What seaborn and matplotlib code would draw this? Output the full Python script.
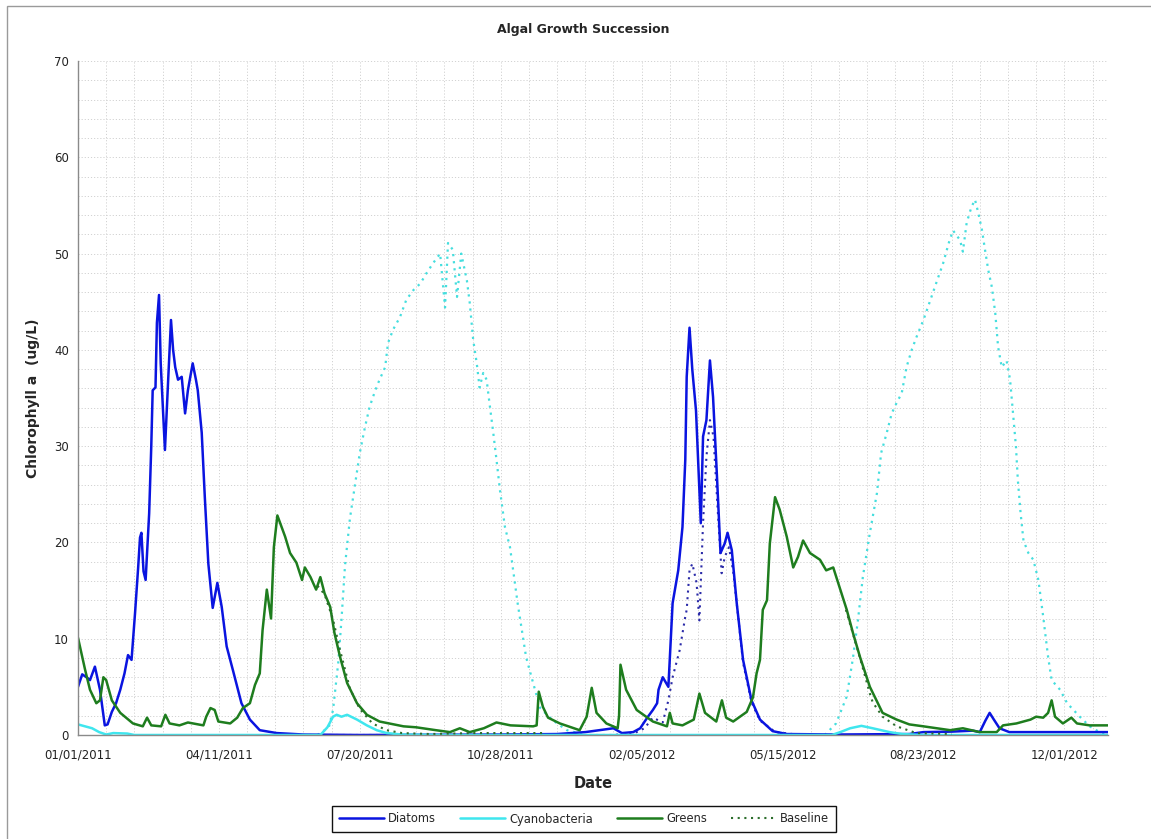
import numpy as np
import pandas as pd
import matplotlib
matplotlib.use("Agg")
import matplotlib.pyplot as plt
from matplotlib.ticker import MultipleLocator
from matplotlib.patches import Rectangle
import seaborn as sns

START = "2011-01-01"

# ---- data (day offset from 01/01/2011, chlorophyll a ug/L) ----
diatoms_days = [0, 3, 6, 8.5, 12, 15.6, 19, 21, 24, 27, 30, 33, 35.5, 38, 40.5, 42.7, 44, 45, 46.5, 48,
                50.5, 52, 53, 55, 56, 57.5, 58.7, 61.7, 64, 66, 67.5, 69, 71, 73.6, 76, 78, 81.4, 83.7, 85,
                87.8, 90, 92.5, 95.6, 98.9, 102, 105.5, 110, 116, 122, 129, 141, 160, 200, 300, 340, 360,
                375, 380, 386, 394, 399, 404, 408, 411, 412, 415, 419, 422, 426, 429, 431, 432, 434, 436,
                438.6, 442, 443.6, 446, 448.5, 450.7, 453.5, 456, 459, 461, 464, 467.5, 472, 478, 484, 493,
                503, 540, 590, 600, 620, 635, 640, 644, 647, 650, 654, 661, 700, 731]
diatoms_vals = [5.0, 6.3, 6.0, 5.7, 7.1, 4.7, 1.0, 1.1, 2.4, 3.3, 4.7, 6.4, 8.3, 7.8, 12.7, 17.4, 20.5, 21.0, 17.0, 16.1,
                23.0, 30.0, 35.8, 36.1, 42.8, 45.7, 38.6, 29.6, 36.9, 43.1, 40.0, 38.2, 36.9, 37.2, 33.4, 35.8, 38.6, 36.9, 35.8,
                31.4, 24.7, 17.8, 13.2, 15.8, 13.3, 9.2, 6.7, 3.3, 1.6, 0.5, 0.2, 0.05, 0.0, 0.05, 0.1, 0.3,
                0.6, 0.7, 0.2, 0.3, 0.7, 1.8, 2.6, 3.3, 4.7, 6.0, 5.0, 13.7, 17.1, 21.6, 28.6, 37.2, 42.3, 37.9,
                33.7, 22.0, 31.0, 32.7, 38.9, 35.1, 26.8, 18.9, 19.9, 21.0, 19.2, 13.7, 7.8, 3.6, 1.6, 0.4,
                0.1, 0.05, 0.1, 0.3, 0.35, 0.45, 0.3, 1.5, 2.3, 1.6, 0.7, 0.3, 0.3, 0.3]

cyano_days = [0, 5, 10, 15, 20, 25, 35, 40, 60, 172, 177, 181, 183.6, 187, 191, 198, 205, 212, 219, 230,
              260, 535, 541, 548, 556, 564, 576, 585, 600, 731]
cyano_vals = [1.1, 0.9, 0.7, 0.3, 0.05, 0.2, 0.15, 0.0, 0.0, 0.0, 0.8, 1.9, 2.1, 1.9, 2.1, 1.6, 1.0, 0.5, 0.2, 0.05,
              0.0, 0.0, 0.3, 0.7, 0.95, 0.7, 0.3, 0.1, 0.0, 0.0]

greens_days = [0, 5, 8.5, 13, 15.6, 18, 20, 24, 30, 39, 46, 49, 52, 59, 62, 65, 72, 78, 89, 91, 94, 97, 99.6,
               108, 113, 117, 122, 125.6, 129, 131, 134, 137, 139, 141.5, 144, 147, 150.5, 155, 159, 161, 165,
               169, 172, 175, 179, 182, 186, 191, 198, 205, 214, 231, 240, 254, 264, 271, 278, 288, 297, 307,
               323, 325.5, 327, 330, 333.6, 342, 356, 361, 364.6, 368, 375, 383, 384, 385, 389, 396.5, 408,
               418, 420, 422, 429, 437, 441, 445, 453, 457, 460, 465, 474.6, 479, 481.6, 484, 486, 489, 491,
               494.7, 498, 503, 507.6, 511, 514.6, 519.5, 526.6, 531, 536, 541, 545.6, 550, 555, 562, 569,
               571, 581, 590, 600, 619, 628, 640, 652, 656.5, 666, 671, 676, 680, 685, 688.5, 691, 693.4,
               699, 705, 709, 718, 731]
greens_vals = [10.1, 6.8, 4.7, 3.3, 3.6, 6.0, 5.7, 3.6, 2.3, 1.2, 0.9, 1.8, 1.0, 0.9, 2.1, 1.2, 1.0, 1.3, 1.0, 1.9, 2.8, 2.6, 1.4,
               1.2, 1.8, 2.8, 3.3, 5.2, 6.4, 10.9, 15.1, 12.1, 19.5, 22.8, 21.8, 20.6, 18.9, 17.9, 16.1, 17.4, 16.4,
               15.1, 16.4, 14.7, 13.3, 10.6, 8.1, 5.4, 3.3, 2.1, 1.4, 0.9, 0.8, 0.5, 0.3, 0.7, 0.3, 0.7, 1.3, 1.0,
               0.9, 1.0, 4.5, 2.9, 1.8, 1.2, 0.5, 1.9, 4.9, 2.3, 1.2, 0.7, 2.0, 7.3, 4.7, 2.6, 1.4,
               0.9, 2.3, 1.2, 1.0, 1.6, 4.3, 2.3, 1.4, 3.6, 1.8, 1.4, 2.4, 3.9, 6.4, 7.8, 13.0, 14.0, 19.9,
               24.7, 23.4, 20.6, 17.4, 18.5, 20.2, 18.9, 18.2, 17.1, 17.4, 15.1, 13.0, 10.6, 8.1, 5.0, 2.9,
               2.3, 1.6, 1.1, 0.9, 0.5, 0.7, 0.3, 0.3, 1.0, 1.2, 1.4, 1.6, 1.9, 1.8, 2.3, 3.6, 1.9,
               1.2, 1.8, 1.2, 1.0, 1.0]

# baselines (dotted)
base_diatoms_days = [150, 200, 300, 380, 395, 402, 408, 415, 419, 422, 427, 431, 432, 434, 436, 439, 441,
                     443.6, 446, 448.5, 451, 454, 456.8, 459, 462, 465, 468, 472, 478, 484, 495, 510]
base_diatoms_vals = [0.0, 0.0, 0.0, 0.0, 0.2, 0.7, 1.8, 1.3, 3.6, 6.0, 8.8, 12.3, 13.0, 17.1, 17.8, 15.8, 11.9,
                     22.0, 28.9, 32.7, 31.0, 23.4, 16.8, 18.5, 19.5, 17.0, 13.0, 7.5, 3.4, 1.5, 0.3, 0.05]

base_cyano1_days = [170, 178, 181, 184.7, 187, 189.5, 193, 196.6, 200, 203.7, 207, 211, 214, 218, 220, 223.6,
                    228.5, 233, 238, 243, 247.5, 252, 257, 260.5, 262.6, 266, 269, 272, 276, 278, 280.5, 283,
                    285, 287.6, 290, 292, 294.7, 297, 299.5, 303, 306.6, 312, 318, 323, 328, 335, 340, 347, 360]
base_cyano1_vals = [0.0, 0.8, 2.6, 7.5, 12.0, 17.6, 22.5, 26.0, 29.3, 32.0, 34.1, 35.8, 36.9, 38.2, 40.7, 42.1,
                    43.4, 45.2, 46.2, 46.9, 48.0, 49.0, 50.0, 44.4, 51.1, 50.4, 45.5, 50.0, 47.2, 44.9, 41.0, 38.6,
                    36.1, 37.6, 36.9, 34.5, 31.4, 28.6, 25.4, 21.6, 19.5, 13.7, 8.1, 5.4, 2.8, 1.8, 1.2, 0.5, 0.0]

base_cyano2_days = [530, 538, 545.6, 550, 553.6, 557, 562, 567, 570, 574, 577.5, 581, 584.6, 588, 591.7, 595,
                    600, 605, 609, 614, 618, 621, 626, 628, 630.7, 634, 636.6, 639, 641.6, 643.7, 646, 648.6,
                    651, 653, 655.6, 659, 661.5, 663.6, 665.7, 667, 669, 671, 674.5, 678, 681.6, 685, 688.5,
                    691, 697, 702, 711, 718, 725, 731]
base_cyano2_vals = [0.0, 1.2, 4.0, 8.0, 12.0, 16.4, 21.0, 25.1, 29.3, 31.4, 33.4, 34.5, 35.5, 38.2, 40.0, 41.3,
                    43.1, 45.2, 46.9, 49.0, 51.1, 52.4, 51.4, 50.2, 53.2, 54.8, 55.6, 54.2, 52.4, 50.4, 48.3, 46.5,
                    43.8, 40.3, 38.2, 38.9, 36.9, 33.4, 29.9, 26.5, 23.0, 20.2, 18.9, 18.2, 16.1, 12.3, 8.1,
                    5.7, 4.7, 3.3, 1.9, 0.9, 0.3, 0.1]

base_greens1_days = [170, 175, 181, 186, 193, 200, 209, 219, 230, 250, 280, 330]
base_greens1_vals = [15.5, 14.6, 12.0, 8.8, 4.8, 2.7, 1.2, 0.5, 0.2, 0.1, 0.2, 0.2]
base_greens2_days = [545, 555, 562, 564, 571, 581, 595, 620]
base_greens2_vals = [13.0, 8.0, 4.3, 3.4, 1.9, 0.9, 0.2, 0.1]

tick_labels = ["01/01/2011", "04/11/2011", "07/20/2011", "10/28/2011",
               "02/05/2012", "05/15/2012", "08/23/2012", "12/01/2012"]


def to_dates(days):
    return pd.Timestamp(START) + pd.to_timedelta(np.asarray(days, dtype=float), unit="D")


sns.set_style("white")
plt.rcParams["font.family"] = ["DejaVu Sans"]

fig = plt.figure(figsize=(11.51, 8.39), dpi=100)
ax = fig.add_axes([78 / 1151, 1 - 735 / 839, (1108 - 78) / 1151, (735 - 61) / 839])

C_DIA = "#0a14e0"
C_CYA = "#3fe6ee"
C_GRE = "#1e7d1e"

dotted = (0, (1, 2.2))

sns.lineplot(x=to_dates(base_diatoms_days), y=base_diatoms_vals, ax=ax, color="#2a2aa8",
             lw=1.5, linestyle=dotted, label="_nolegend_")
sns.lineplot(x=to_dates(base_cyano1_days), y=base_cyano1_vals, ax=ax, color="#45dede",
             lw=1.6, linestyle=dotted, label="_nolegend_")
sns.lineplot(x=to_dates(base_cyano2_days), y=base_cyano2_vals, ax=ax, color="#45dede",
             lw=1.6, linestyle=dotted, label="_nolegend_")
sns.lineplot(x=to_dates(diatoms_days), y=diatoms_vals, ax=ax, color=C_DIA, lw=1.8, label="Diatoms")
sns.lineplot(x=to_dates(greens_days), y=greens_vals, ax=ax, color=C_GRE, lw=1.8, label="Greens")
sns.lineplot(x=to_dates(cyano_days), y=cyano_vals, ax=ax, color=C_CYA, lw=1.8, label="Cyanobacteria")
sns.lineplot(x=to_dates(base_greens1_days), y=base_greens1_vals, ax=ax, color="#2c6e2c",
             lw=1.5, linestyle=dotted, label="Baseline")
sns.lineplot(x=to_dates(base_greens2_days), y=base_greens2_vals, ax=ax, color="#2c6e2c",
             lw=1.5, linestyle=dotted, label="_nolegend_")

# axes limits & ticks
ax.set_ylim(0, 70)
ax.set_xlim(pd.Timestamp(START), pd.Timestamp(START) + pd.Timedelta(days=731))
major_dates = pd.to_datetime(tick_labels, format="%m/%d/%Y")
ax.set_xticks(major_dates)
ax.set_xticklabels(tick_labels)
minor_dates = pd.Timestamp(START) + pd.to_timedelta(np.arange(0, 740, 20), unit="D")
ax.set_xticks(minor_dates, minor=True)
ax.yaxis.set_major_locator(MultipleLocator(10))
ax.yaxis.set_minor_locator(MultipleLocator(2))

ax.grid(True, which="both", axis="both", color="#d2d2d2", linestyle=(0, (1.2, 2)), lw=0.7)
ax.set_axisbelow(True)

for s in ["top", "right"]:
    ax.spines[s].set_visible(False)
for s in ["left", "bottom"]:
    ax.spines[s].set_color("#8a8a8a")
    ax.spines[s].set_linewidth(1.0)

ax.tick_params(axis="both", which="major", direction="inout", length=7, width=1,
               color="#8a8a8a", labelsize=8.5, labelcolor="#222222", pad=3)
ax.tick_params(axis="both", which="minor", direction="inout", length=5, width=1, color="#8a8a8a")
ax.tick_params(axis="x", which="major", pad=6)

ax.set_xlabel("Date", fontsize=10.5, fontweight="bold")
ax.set_ylabel("Chlorophyll a  (ug/L)", fontsize=10, fontweight="bold")
ax.yaxis.set_label_coords((40 - 78) / 1030, 0.5)
ax.xaxis.set_label_coords(0.5, (735 - 776) / 674)

fig.text(583 / 1151, 1 - 30 / 839, "Algal Growth Succession", ha="center", va="center",
         fontsize=9, fontweight="bold")

# legend
handles, labels = ax.get_legend_handles_labels()
order = ["Diatoms", "Cyanobacteria", "Greens", "Baseline"]
hmap = dict(zip(labels, handles))
if ax.get_legend() is not None:
    ax.get_legend().remove()
leg = fig.legend([hmap[k] for k in order], order, loc="center",
                 bbox_to_anchor=(584 / 1151, 1 - 819 / 839), ncol=4, fontsize=8.3,
                 frameon=True, fancybox=False, edgecolor="#111111", framealpha=1,
                 handlelength=3.9, handletextpad=0.35, columnspacing=2.1, borderpad=0.6)
leg.get_frame().set_linewidth(1.0)

# outer border (left & top visible)
fig.patches.append(Rectangle((7 / 1151, -0.02), 1.2, 1 - 6 / 839 + 0.02, transform=fig.transFigure,
                             fill=False, edgecolor="#9a9a9a", lw=1.0))

fig.savefig("out.png", dpi=100)
